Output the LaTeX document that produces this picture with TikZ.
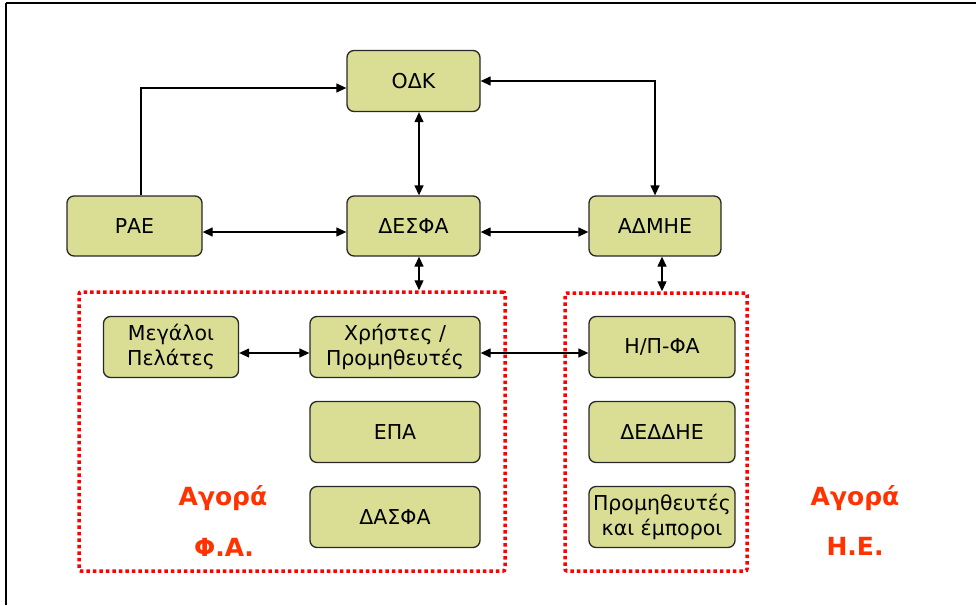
\documentclass[tikz,border=0pt]{standalone}
\usepackage{fontspec}
\setmainfont{DejaVu Sans}
\usetikzlibrary{arrows.meta,calc}
\definecolor{boxfill}{RGB}{217,222,148}
\definecolor{boxline}{RGB}{40,40,40}
\definecolor{mktred}{RGB}{255,0,0}
\definecolor{lblred}{RGB}{255,50,0}
\begin{document}
\begin{tikzpicture}[x=1pt,y=-1pt,
  box/.style={draw=boxline, fill=boxfill, rounded corners=7pt, line width=1.3pt,
    align=center, inner sep=0pt, font=\fontsize{20.5}{25}\selectfont},
  arr/.style={line width=1.3pt, -{Triangle[length=10pt,width=9pt]}},
  darr/.style={line width=1.3pt, {Triangle[length=10pt,width=9pt]}-{Triangle[length=10pt,width=9pt]}},
  mkt/.style={draw=mktred, line width=3.5pt, dash pattern=on 3.5pt off 3pt, rounded corners=2pt, inner sep=0pt},
  lbl/.style={text=lblred, font=\fontsize{25}{30}\selectfont\bfseries, inner sep=0pt},
  frame/.style={line width=2pt, draw=black}]
\useasboundingbox (0,0) rectangle (976,605);
\draw[frame] (6,3) -- (976,3);
\draw[frame] (6,3) -- (6,605);

% market boxes
\node[mkt, minimum width=426pt, minimum height=279pt] (famkt) at (292,431.5) {};
\node[mkt, minimum width=182pt, minimum height=278pt] (hemkt) at (656,432) {};

% nodes
\node[box, minimum width=133pt, minimum height=61pt] (odk) at (413.5,81) {ΟΔΚ};
\node[box, minimum width=135pt, minimum height=60pt] (rae) at (134.5,226) {ΡΑΕ};
\node[box, minimum width=133pt, minimum height=60pt] (desfa) at (413.5,226) {ΔΕΣΦΑ};
\node[box, minimum width=132pt, minimum height=60pt] (admhe) at (655,226) {ΑΔΜΗΕ};
\node[box, minimum width=135pt, minimum height=61pt] (meg) at (171,347) {Μεγάλοι\\Πελάτες};
\node[box, minimum width=170pt, minimum height=61pt] (xri) at (395,347) {Χρήστες /\\Προμηθευτές};
\node[box, minimum width=170pt, minimum height=61pt] (epa) at (395,432) {ΕΠΑ};
\node[box, minimum width=170pt, minimum height=61pt] (dasfa) at (395,517) {ΔΑΣΦΑ};
\node[box, minimum width=146pt, minimum height=61pt] (hp) at (662,347) {Η/Π-ΦΑ};
\node[box, minimum width=146pt, minimum height=61pt] (dedd) at (662,432) {ΔΕΔΔΗΕ};
\node[box, minimum width=146pt, minimum height=61pt] (prom) at (662,517) {Προμηθευτές\\και έμποροι};

% labels
\node[lbl] (fa1) at (223,498) {Αγορά};
\node[lbl] (fa2) at (224,547) {Φ.Α.};
\node[lbl] (he1) at (855,498) {Αγορά};
\node[lbl] (he2) at (855,546) {Η.Ε.};

% connectors
\coordinate (raetop) at ([xshift=6.5pt]rae.north);
\coordinate (odkw) at ([yshift=-7pt]odk.west);
\draw[arr] (raetop) |- (odkw);
\coordinate (odke) at (odk.east);
\draw[darr] (odke) -| (admhe.north);
\coordinate (odkb) at ([xshift=5.5pt]odk.south);
\draw[darr] (odkb) -- (odkb |- desfa.north);
\coordinate (raee) at ([yshift=-6pt]rae.east);
\draw[darr] (raee) -- (raee -| desfa.west);
\coordinate (desfae) at ([yshift=-6pt]desfa.east);
\draw[darr] (desfae) -- (desfae -| admhe.west);
\coordinate (desfab) at ([xshift=5.5pt]desfa.south);
\draw[darr] (desfab) -- (desfab |- famkt.north);
\coordinate (admheb) at ([xshift=7pt]admhe.south);
\draw[darr] (admheb) -- (admheb |- hemkt.north);
\coordinate (mege) at ([yshift=-6pt]meg.east);
\draw[darr] (mege) -- (mege -| xri.west);
\coordinate (xrie) at ([yshift=-6pt]xri.east);
\draw[darr] (xrie) -- (xrie -| hp.west);
\end{tikzpicture}
\end{document}
